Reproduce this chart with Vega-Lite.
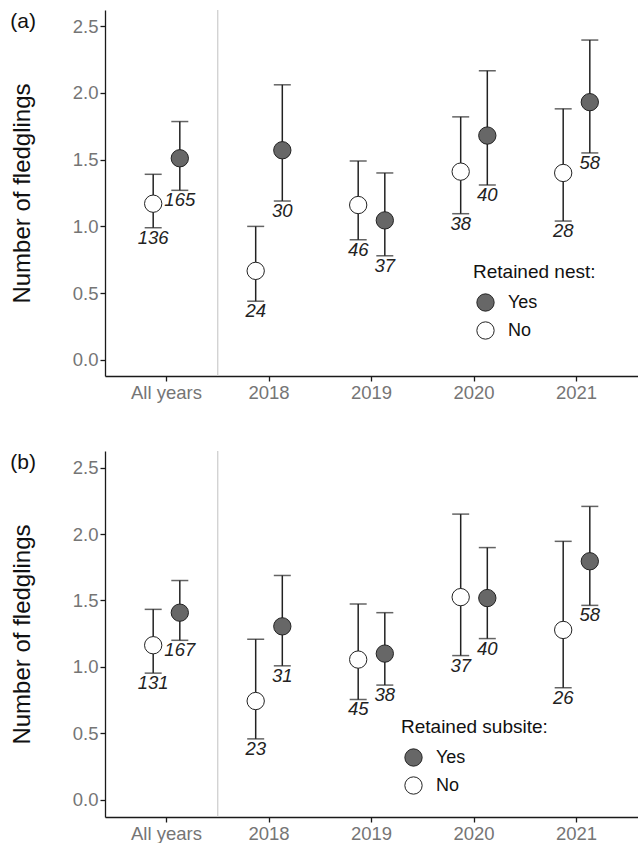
{
  "$schema": "https://vega.github.io/schema/vega-lite/v6.json",
  "padding": {"top": 9, "left": 10, "right": 0, "bottom": 0},
  "background": "white",
  "config": {
    "font": "Liberation Sans",
    "view": {"stroke": null},
    "axis": {
      "grid": false,
      "domainColor": "#1a1a1a",
      "domainWidth": 1.3,
      "tickColor": "#1a1a1a",
      "tickWidth": 1.3,
      "tickSize": 5,
      "labelColor": "#757575",
      "labelFontSize": 18.5,
      "labelFont": "Liberation Sans",
      "titleFont": "Liberation Sans",
      "titleFontWeight": "normal",
      "titleColor": "#111111",
      "titleFontSize": 24
    },
    "legend": {
      "titleFont": "Liberation Sans",
      "labelFont": "Liberation Sans",
      "titleFontWeight": "normal",
      "titleFontSize": 19,
      "titleColor": "#111111",
      "labelFontSize": 18,
      "labelColor": "#111111",
      "symbolType": "circle",
      "symbolSize": 300,
      "symbolStrokeColor": "#222222",
      "symbolStrokeWidth": 1,
      "rowPadding": 5,
      "titlePadding": 11,
      "labelOffset": 13,
      "symbolOffset": 3
    }
  },
  "datasets": {
    "a": [
      {"year": "All years", "retained": "No", "mean": 1.17, "lo": 0.99, "hi": 1.39, "n": "136"},
      {"year": "All years", "retained": "Yes", "mean": 1.51, "lo": 1.27, "hi": 1.785, "n": "165"},
      {"year": "2018", "retained": "No", "mean": 0.667, "lo": 0.44, "hi": 1.0, "n": "24"},
      {"year": "2018", "retained": "Yes", "mean": 1.57, "lo": 1.19, "hi": 2.06, "n": "30"},
      {"year": "2019", "retained": "No", "mean": 1.16, "lo": 0.9, "hi": 1.49, "n": "46"},
      {"year": "2019", "retained": "Yes", "mean": 1.045, "lo": 0.78, "hi": 1.4, "n": "37"},
      {"year": "2020", "retained": "No", "mean": 1.41, "lo": 1.095, "hi": 1.82, "n": "38"},
      {"year": "2020", "retained": "Yes", "mean": 1.68, "lo": 1.31, "hi": 2.165, "n": "40"},
      {"year": "2021", "retained": "No", "mean": 1.4, "lo": 1.04, "hi": 1.88, "n": "28"},
      {"year": "2021", "retained": "Yes", "mean": 1.93, "lo": 1.55, "hi": 2.395, "n": "58"}
    ],
    "b": [
      {"year": "All years", "retained": "No", "mean": 1.163, "lo": 0.953, "hi": 1.433, "n": "131"},
      {"year": "All years", "retained": "Yes", "mean": 1.408, "lo": 1.2, "hi": 1.65, "n": "167"},
      {"year": "2018", "retained": "No", "mean": 0.743, "lo": 0.458, "hi": 1.208, "n": "23"},
      {"year": "2018", "retained": "Yes", "mean": 1.305, "lo": 1.008, "hi": 1.688, "n": "31"},
      {"year": "2019", "retained": "No", "mean": 1.055, "lo": 0.755, "hi": 1.473, "n": "45"},
      {"year": "2019", "retained": "Yes", "mean": 1.1, "lo": 0.863, "hi": 1.408, "n": "38"},
      {"year": "2020", "retained": "No", "mean": 1.525, "lo": 1.085, "hi": 2.15, "n": "37"},
      {"year": "2020", "retained": "Yes", "mean": 1.518, "lo": 1.213, "hi": 1.898, "n": "40"},
      {"year": "2021", "retained": "No", "mean": 1.278, "lo": 0.843, "hi": 1.945, "n": "26"},
      {"year": "2021", "retained": "Yes", "mean": 1.795, "lo": 1.463, "hi": 2.208, "n": "58"}
    ],
    "sep": [{"year": "2018"}]
  },
  "spacing": 48,
  "vconcat": [
    {
      "width": 533,
      "height": 366,
      "title": {"text": "(a)", "anchor": "start", "frame": "bounds", "fontSize": 21, "fontWeight": "normal", "color": "#111111", "baseline": "top", "offset": -23},
      "encoding": {
        "x": {"field": "year", "type": "nominal", "sort": null,
          "scale": {"domain": ["All years", "2018", "2019", "2020", "2021"], "paddingInner": 0, "paddingOuter": 0.1},
          "axis": {"title": null, "labelAngle": 0, "labelPadding": 2}}
      },
      "layer": [
        {"data": {"name": "sep"}, "mark": {"type": "rule", "color": "#cccccc", "strokeWidth": 1.2},
          "encoding": {"x": {"field": "year", "type": "nominal", "bandPosition": 0}}},
        {"data": {"name": "a"}, "mark": {"type": "rule", "color": "#222222", "strokeWidth": 1.5},
          "encoding": {
            "xOffset": {"field": "retained", "type": "nominal", "scale": {"domain": ["No", "Yes"], "paddingInner": 0, "paddingOuter": 0.925}},
            "y": {"field": "lo", "type": "quantitative", "scale": {"domain": [-0.12, 2.62], "nice": false, "zero": false},
              "axis": {"title": "Number of fledglings", "values": [0, 0.5, 1, 1.5, 2, 2.5], "format": ".1f", "labelPadding": 2, "titlePadding": 38}},
            "y2": {"field": "hi"}
          }},
        {"data": {"name": "a"}, "mark": {"type": "tick", "orient": "horizontal", "size": 17, "thickness": 1.5, "color": "#222222"},
          "encoding": {
            "xOffset": {"field": "retained", "type": "nominal"},
            "y": {"field": "hi", "type": "quantitative"}
          }},
        {"data": {"name": "a"}, "mark": {"type": "tick", "orient": "horizontal", "size": 17, "thickness": 1.5, "color": "#222222"},
          "encoding": {
            "xOffset": {"field": "retained", "type": "nominal"},
            "y": {"field": "lo", "type": "quantitative"}
          }},
        {"data": {"name": "a"}, "mark": {"type": "circle", "size": 300, "opacity": 1, "stroke": "#222222", "strokeWidth": 1},
          "encoding": {
            "xOffset": {"field": "retained", "type": "nominal"},
            "y": {"field": "mean", "type": "quantitative"},
            "fill": {"field": "retained", "type": "nominal", "scale": {"domain": ["Yes", "No"], "range": ["#676767", "#ffffff"]},
              "legend": {"title": "Retained nest:", "orient": "none", "legendX": 368, "legendY": 253}}
          }},
        {"data": {"name": "a"}, "mark": {"type": "text", "baseline": "top", "dy": 1, "fontStyle": "italic", "fontSize": 18.5, "color": "#222222"},
          "encoding": {
            "xOffset": {"field": "retained", "type": "nominal"},
            "y": {"field": "lo", "type": "quantitative"},
            "text": {"field": "n", "type": "nominal"}
          }}
      ]
    },
    {
      "width": 533,
      "height": 366,
      "title": {"text": "(b)", "anchor": "start", "frame": "bounds", "fontSize": 21, "fontWeight": "normal", "color": "#111111", "baseline": "top", "offset": -23},
      "encoding": {
        "x": {"field": "year", "type": "nominal", "sort": null,
          "scale": {"domain": ["All years", "2018", "2019", "2020", "2021"], "paddingInner": 0, "paddingOuter": 0.1},
          "axis": {"title": null, "labelAngle": 0, "labelPadding": 2}}
      },
      "layer": [
        {"data": {"name": "sep"}, "mark": {"type": "rule", "color": "#cccccc", "strokeWidth": 1.2},
          "encoding": {"x": {"field": "year", "type": "nominal", "bandPosition": 0}}},
        {"data": {"name": "b"}, "mark": {"type": "rule", "color": "#222222", "strokeWidth": 1.5},
          "encoding": {
            "xOffset": {"field": "retained", "type": "nominal", "scale": {"domain": ["No", "Yes"], "paddingInner": 0, "paddingOuter": 0.925}},
            "y": {"field": "lo", "type": "quantitative", "scale": {"domain": [-0.13, 2.625], "nice": false, "zero": false},
              "axis": {"title": "Number of fledglings", "values": [0, 0.5, 1, 1.5, 2, 2.5], "format": ".1f", "labelPadding": 2, "titlePadding": 38}},
            "y2": {"field": "hi"}
          }},
        {"data": {"name": "b"}, "mark": {"type": "tick", "orient": "horizontal", "size": 17, "thickness": 1.5, "color": "#222222"},
          "encoding": {
            "xOffset": {"field": "retained", "type": "nominal"},
            "y": {"field": "hi", "type": "quantitative"}
          }},
        {"data": {"name": "b"}, "mark": {"type": "tick", "orient": "horizontal", "size": 17, "thickness": 1.5, "color": "#222222"},
          "encoding": {
            "xOffset": {"field": "retained", "type": "nominal"},
            "y": {"field": "lo", "type": "quantitative"}
          }},
        {"data": {"name": "b"}, "mark": {"type": "circle", "size": 300, "opacity": 1, "stroke": "#222222", "strokeWidth": 1},
          "encoding": {
            "xOffset": {"field": "retained", "type": "nominal"},
            "y": {"field": "mean", "type": "quantitative"},
            "fill": {"field": "retained", "type": "nominal", "scale": {"domain": ["Yes", "No"], "range": ["#676767", "#ffffff"]},
              "legend": {"title": "Retained subsite:", "orient": "none", "legendX": 296, "legendY": 267}}
          }},
        {"data": {"name": "b"}, "mark": {"type": "text", "baseline": "top", "dy": 1, "fontStyle": "italic", "fontSize": 18.5, "color": "#222222"},
          "encoding": {
            "xOffset": {"field": "retained", "type": "nominal"},
            "y": {"field": "lo", "type": "quantitative"},
            "text": {"field": "n", "type": "nominal"}
          }}
      ]
    }
  ],
  "resolve": {"scale": {"fill": "independent"}, "legend": {"fill": "independent"}}
}
